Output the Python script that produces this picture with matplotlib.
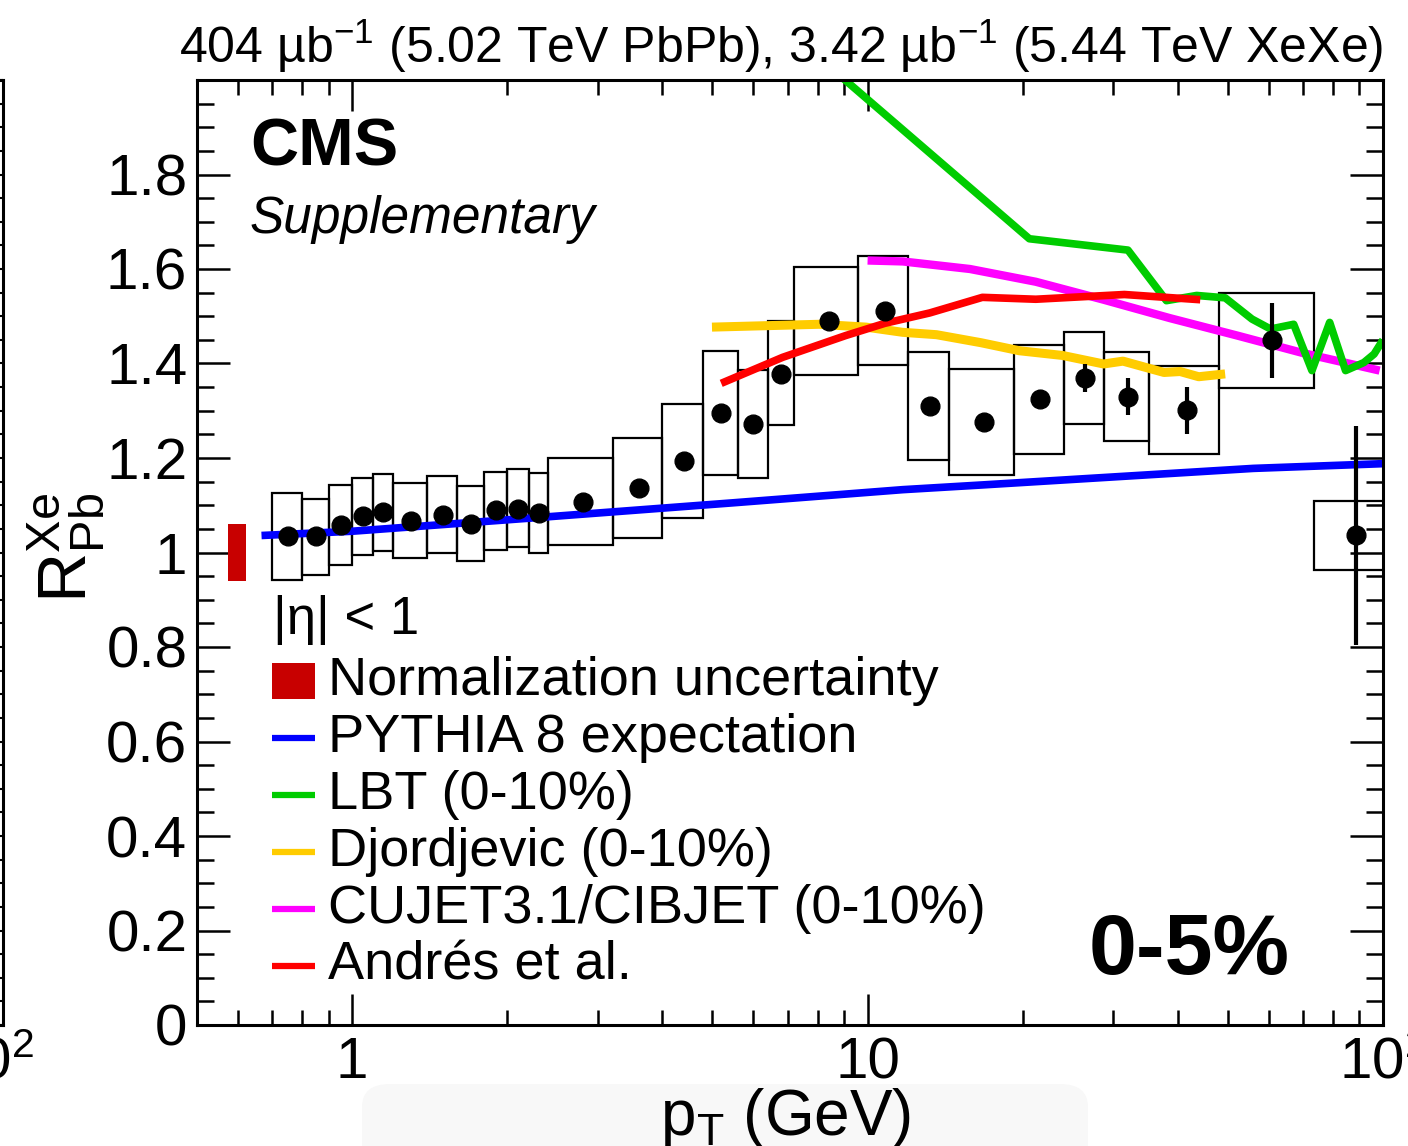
import matplotlib
matplotlib.use('Agg')
import matplotlib.pyplot as plt
from matplotlib.patches import Rectangle, FancyBboxPatch
from matplotlib.lines import Line2D
from matplotlib.ticker import FixedLocator, FuncFormatter
from matplotlib.transforms import ScaledTranslation

plt.rcParams['font.family'] = ['Liberation Sans', 'DejaVu Sans']
plt.rcParams['mathtext.fontset'] = 'custom'
plt.rcParams['mathtext.rm'] = 'Liberation Sans'
plt.rcParams['mathtext.it'] = 'Liberation Sans:italic'
plt.rcParams['mathtext.bf'] = 'Liberation Sans:bold'

# R_PbXe, 0-5% centrality, |eta| < 1
bin_lo = [0.7, 0.8, 0.9, 1.0, 1.1, 1.2, 1.4, 1.6, 1.8, 2.0, 2.2, 2.4, 3.2, 4.0,
          4.8, 5.6, 6.4, 7.2, 9.6, 12.0, 14.4, 19.2, 24.0, 28.8, 35.2, 48.0, 73.6]
bin_hi = [0.8, 0.9, 1.0, 1.1, 1.2, 1.4, 1.6, 1.8, 2.0, 2.2, 2.4, 3.2, 4.0, 4.8,
          5.6, 6.4, 7.2, 9.6, 12.0, 14.4, 19.2, 24.0, 28.8, 35.2, 48.0, 73.6, 103.6]
pt = [0.75, 0.85, 0.95, 1.05, 1.15, 1.3, 1.5, 1.7, 1.9, 2.1, 2.3, 2.8, 3.6, 4.4,
      5.2, 6.0, 6.8, 8.4, 10.8, 13.2, 16.8, 21.6, 26.4, 32.0, 41.6, 60.8, 88.6]
ratio = [1.034, 1.034, 1.058, 1.077, 1.085, 1.067, 1.080, 1.061, 1.089, 1.093, 1.084,
         1.107, 1.136, 1.194, 1.295, 1.271, 1.378, 1.491, 1.512, 1.310, 1.277, 1.325,
         1.369, 1.330, 1.301, 1.449, 1.036]
stat = [0.002, 0.002, 0.002, 0.002, 0.002, 0.002, 0.002, 0.002, 0.003, 0.003, 0.003,
        0.003, 0.004, 0.004, 0.005, 0.006, 0.006, 0.006, 0.008, 0.010, 0.012, 0.018,
        0.029, 0.040, 0.050, 0.079, 0.232]
sys_lo = [0.942, 0.953, 0.974, 0.994, 1.004, 0.988, 1.000, 0.981, 1.006, 1.011, 0.999,
          1.015, 1.031, 1.072, 1.164, 1.157, 1.269, 1.376, 1.397, 1.195, 1.165, 1.209,
          1.273, 1.237, 1.209, 1.348, 0.963]
sys_hi = [1.126, 1.114, 1.142, 1.158, 1.167, 1.147, 1.161, 1.140, 1.171, 1.177, 1.169,
          1.200, 1.243, 1.315, 1.427, 1.386, 1.489, 1.604, 1.627, 1.424, 1.389, 1.440,
          1.466, 1.425, 1.395, 1.549, 1.110]

norm_unc = 0.06

# model curves
pythia_pt = [0.667, 1.0, 2.23, 5.46, 11.7, 16.7, 56.0, 100.0]
pythia_r = [1.036, 1.045, 1.073, 1.105, 1.133, 1.143, 1.178, 1.188]

lbt_pt = [8.0, 20.6, 32.0, 38.0, 43.5, 49.4, 55.7, 60.5, 67.1, 72.8, 78.8, 84.6, 91.8, 96.1, 100.0]
lbt_r = [2.05, 1.664, 1.640, 1.533, 1.544, 1.539, 1.494, 1.473, 1.483, 1.385, 1.487,
         1.385, 1.402, 1.420, 1.450]

djo_pt = [4.99, 8.05, 9.93, 11.7, 13.6, 16.6, 19.7, 23.9, 28.7, 31.3, 37.6, 40.4, 43.9, 49.4]
djo_r = [1.477, 1.483, 1.477, 1.466, 1.461, 1.444, 1.427, 1.417, 1.399, 1.405, 1.381,
         1.383, 1.372, 1.378]

cujet_pt = [10.0, 11.7, 15.8, 21.2, 28.7, 38.6, 52.2, 70.0, 98.5]
cujet_r = [1.618, 1.616, 1.600, 1.573, 1.535, 1.496, 1.459, 1.422, 1.385]

andres_pt = [5.2, 6.84, 9.06, 10.8, 13.2, 16.7, 21.2, 31.5, 44.2]
andres_r = [1.358, 1.413, 1.459, 1.485, 1.507, 1.540, 1.536, 1.546, 1.535]

W, H = 1408, 1146
fig = plt.figure(figsize=(W / 100, H / 100), dpi=100)

# edge of the neighbouring panel
ax_prev = fig.add_axes([-0.6, 1 - 1025 / H, 0.6 + 3 / W, 945 / H])
ax_prev.set_xscale('log')
ax_prev.set_xlim(0.5, 100)
ax_prev.set_ylim(0, 2.0)
ax_prev.yaxis.set_major_locator(FixedLocator([0.2 * i for i in range(10)]))
ax_prev.yaxis.set_minor_locator(FixedLocator([0.05 * i for i in range(41)]))
ax_prev.tick_params(axis='y', which='both', direction='in', left=False, right=True,
                    labelleft=False, width=1.5)
ax_prev.tick_params(axis='y', which='major', length=24)
ax_prev.tick_params(axis='y', which='minor', length=12)
ax_prev.set_xticks([100])
ax_prev.set_xticklabels([r'$\mathregular{10^{2}}$'], fontsize=42)
ax_prev.tick_params(axis='x', direction='in', length=0, pad=8)
ax_prev.xaxis.set_minor_locator(FixedLocator([]))
for lab in ax_prev.get_xticklabels():
    lab.set_transform(lab.get_transform() + ScaledTranslation(-0.13, 0, fig.dpi_scale_trans))
for s in ax_prev.spines.values():
    s.set_linewidth(2.2)
ax_prev.set_title('(5.44 TeV XeXe)', loc='right', fontsize=36, pad=12)

ax = fig.add_axes([197 / W, 1 - 1025 / H, (1383 - 197) / W, 945 / H])
ax.set_xscale('log')
ax.set_xlim(0.5, 100)
ax.set_ylim(0, 2.0)

# systematic boxes
for lo, hi, slo, shi in zip(bin_lo, bin_hi, sys_lo, sys_hi):
    ax.add_patch(Rectangle((lo, slo), hi - lo, shi - slo, fill=False,
                           edgecolor='black', linewidth=1.6, zorder=1))

# normalization uncertainty
ax.add_patch(Rectangle((0.575, 1 - norm_unc), 0.048, 2 * norm_unc,
                       facecolor='#c80000', edgecolor='none', zorder=2))

ax.plot(pythia_pt, pythia_r, color='#0000ff', lw=5.5, zorder=3, solid_capstyle='butt')
ax.plot(cujet_pt, cujet_r, color='#ff00ff', lw=6, zorder=3, solid_capstyle='butt')
ax.plot(djo_pt, djo_r, color='#ffcc00', lw=6.5, zorder=3, solid_capstyle='butt')
ax.plot(lbt_pt, lbt_r, color='#00cc00', lw=5.5, zorder=3, solid_capstyle='butt')
ax.plot(andres_pt, andres_r, color='#ff0000', lw=5.5, zorder=3, solid_capstyle='butt')

ax.errorbar(pt, ratio, yerr=stat, fmt='o', color='black', markersize=13.5,
            elinewidth=3, capsize=0, zorder=4)

# ticks
ax.xaxis.set_major_locator(FixedLocator([1, 10, 100]))
ax.set_xticklabels(['1', '10', r'$\mathregular{10^{2}}$'])
minors = [0.5, 0.6, 0.7, 0.8, 0.9] + list(range(2, 10)) + list(range(20, 100, 10))
ax.xaxis.set_minor_locator(FixedLocator(minors))
ax.set_yticks([0.2 * i for i in range(10)])
ax.yaxis.set_major_formatter(FuncFormatter(lambda v, p: '%g' % round(v, 2)))
ax.yaxis.set_minor_locator(FixedLocator([0.05 * i for i in range(41)]))
ax.tick_params(which='both', direction='in', top=True, right=True, width=1.8,
               labelsize=42)
ax.tick_params(axis='y', which='major', length=24, pad=7)
ax.tick_params(axis='y', which='minor', length=12)
ax.tick_params(axis='x', which='major', length=22, pad=8)
ax.tick_params(axis='x', which='minor', length=11)
for s in ax.spines.values():
    s.set_linewidth(2.2)
    s.set_zorder(5)

ax.set_xlabel(r'$\mathregular{p_{T}}$ (GeV)', fontsize=46)
ax.xaxis.set_label_coords((786 - 197) / 1186, (1025 - 1086) / 945)
ax.yaxis.label.set_va('center')
ax.set_ylabel(r'$\mathregular{R^{Xe}_{Pb}}$', fontsize=50)
ax.yaxis.set_label_coords((66 - 197) / 1186, (1025 - 548) / 945)

ax.set_title(u'404 \u00b5b$^{-1}$ (5.02 TeV PbPb), 3.42 \u00b5b$^{-1}$ (5.44 TeV XeXe)',
             loc='right', fontsize=36, pad=12)

def ax_xy(px, py):
    return (px - 197) / 1186, (1025 - py) / 945

ax.text(*ax_xy(250, 148), 'CMS', fontsize=48, fontweight='bold', va='center',
        ha='left', transform=ax.transAxes)
ax.text(*ax_xy(250, 220), 'Supplementary', fontsize=37, style='italic', va='center',
        ha='left', transform=ax.transAxes)
ax.text(*ax_xy(1290, 952), '0-5%', fontsize=62, fontweight='bold', va='center',
        ha='right', transform=ax.transAxes)

# legend
ax.text(*ax_xy(273, 620), u'|\u03b7| < 1', fontsize=38, va='center', ha='left',
        transform=ax.transAxes)
entries = [
    ('box', '#c80000', 'Normalization uncertainty'),
    ('line', '#0000ff', 'PYTHIA 8 expectation'),
    ('line', '#00cc00', 'LBT (0-10%)'),
    ('line', '#ffcc00', 'Djordjevic (0-10%)'),
    ('line', '#ff00ff', 'CUJET3.1/CIBJET (0-10%)'),
    ('line', '#ff0000', u'Andr\u00e9s et al.'),
]
for i, (kind, col, label) in enumerate(entries):
    yc = 681 + 57 * i
    x0, y0 = ax_xy(272, yc)
    x1, _ = ax_xy(315, yc)
    if kind == 'box':
        hb = 36 / 945
        ax.add_patch(Rectangle((x0, y0 - hb / 2), x1 - x0, hb, facecolor=col,
                               edgecolor='none', transform=ax.transAxes))
    else:
        ax.add_line(Line2D([x0, x1], [y0, y0], color=col, lw=4.5,
                           transform=ax.transAxes, solid_capstyle='butt'))
    ax.text(*ax_xy(328, yc), label, fontsize=39, va='center', ha='left',
            transform=ax.transAxes)

# faint shaded band behind the axis title
fig.add_artist(FancyBboxPatch((362 / W, -0.05), (1088 - 362) / W, 0.05 + 62 / H,
                              boxstyle='round,pad=0,rounding_size=0.02',
                              transform=fig.transFigure, facecolor='#f8f8f8',
                              edgecolor='none', zorder=-1))

fig.savefig('out.png', dpi=100)
